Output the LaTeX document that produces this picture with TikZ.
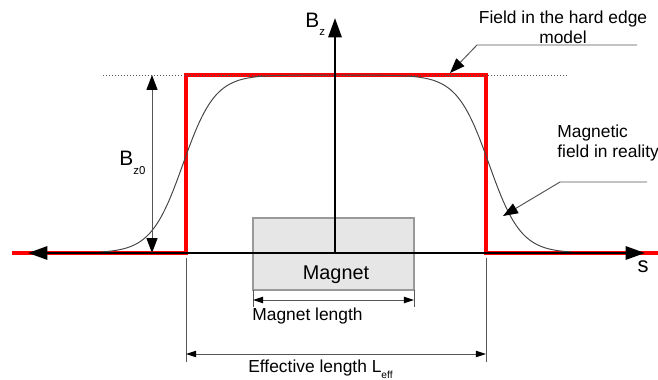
\documentclass[tikz,border=0pt]{standalone}
\usepackage{fontspec}
\setmainfont{Liberation Sans}
\usetikzlibrary{arrows.meta}
\definecolor{linegray}{HTML}{555555}
\definecolor{curvegray}{HTML}{444444}
\definecolor{boxfill}{HTML}{E6E6E6}
\definecolor{boxline}{HTML}{999999}
\tikzset{
  bigtip/.tip={Triangle[length=11pt,width=7.5pt,black]},
  midtip/.tip={Triangle[length=8.5pt,width=6.3pt,black]},
  smalltip/.tip={Triangle[length=5.7pt,width=3.6pt,black]},
}
\begin{document}
\begin{tikzpicture}[x=0.02cm,y=-0.02cm,
  lbl/.style={inner sep=0pt, font=\fontsize{9.9}{11}\selectfont},
  thinline/.style={draw=linegray, line width=0.55pt},
  axisline/.style={draw=black, line width=1.4pt},
  hardedge/.style={draw=red, line width=2.3pt, line join=miter},
]
\useasboundingbox (0,0) rectangle (658,379);

% named points
\coordinate (redL) at (12,253);
\coordinate (edgeLb) at (186,253);
\coordinate (edgeLt) at (186,75);
\coordinate (edgeRt) at (486,75);
\coordinate (edgeRb) at (486,253);
\coordinate (redR) at (658,253);
\coordinate (axL) at (28,253);
\coordinate (axR) at (645,253);
\coordinate (orig) at (335,253);
\coordinate (axT) at (335,18);
\coordinate (dotL) at (103,75);
\coordinate (dotR) at (568,75);

% hard edge field
\draw[hardedge] (redL) -- (edgeLb) -- (edgeLt) -- (edgeRt) -- (edgeRb) -- (redR);

% real field
\draw[curvegray, line width=0.55pt] plot[domain=100:572, samples=200]
  (\x, {253-178/(1+exp((abs(\x-336)-153)/16))});

% dotted level
\draw[linegray, line width=0.5pt, dash pattern=on 0.6pt off 1.1pt] (dotL) -- (dotR);

% magnet
\coordinate (mb1) at (253,218);
\coordinate (mb2) at (414,290);
\draw[draw=boxline, fill=boxfill, line width=0.6pt] (mb1) rectangle (mb2);
\node[lbl, font=\fontsize{11.3}{13}\selectfont, anchor=base] (magnet) at (336,279) {Magnet};

% axes
\draw[axisline, {bigtip}-{bigtip}] (axL) -- (axR);
\draw[axisline, -{bigtip}] (orig) -- (axT);
\node[lbl, anchor=base west, font=\fontsize{11.9}{13}\selectfont] (bz) at (305,27)
  {B\raisebox{-5pt}{\fontsize{6.5}{7}\selectfont z}};
\node[lbl, anchor=base, font=\fontsize{12.5}{13}\selectfont] (slbl) at (643,272) {s};

% Bz0 arrow
\coordinate (bz0t) at (152,75);
\coordinate (bz0b) at (152,253);
\draw[thinline, {midtip}-{midtip}] (bz0t) -- (bz0b);
\node[lbl, anchor=base west, font=\fontsize{11.9}{13}\selectfont] (bz0) at (119,165)
  {B\raisebox{-5.5pt}{\fontsize{6.5}{7}\selectfont z0}};

% hard edge label
\node[lbl, anchor=base] (hel1) at (563,23) {Field in the hard edge};
\node[lbl, anchor=base] (hel2) at (563,43) {model};
\coordinate (he1) at (637,45);
\coordinate (he2) at (477,45);
\coordinate (he3) at (450,73);
\draw[thinline, -{midtip}] (he1) -- (he2) -- (he3);

% reality label
\node[lbl, anchor=base west] (rl1) at (557,137) {Magnetic};
\node[lbl, anchor=base west] (rl2) at (557,157) {field in reality};
\coordinate (re1) at (647,182);
\coordinate (re2) at (560,182);
\coordinate (re3) at (503,216);
\draw[thinline, -{midtip}] (re1) -- (re2) -- (re3);

% magnet length
\coordinate (ml1) at (253,307);
\coordinate (ml2) at (414,307);
\draw[thinline] (mb1 |- mb2) -- (ml1);
\draw[thinline] (mb2) -- (ml2);
\draw[thinline, {smalltip}-{smalltip}] (253,300) -- (414,300);
\node[lbl, anchor=base west] (mltxt) at (252,320) {Magnet length};

% effective length
\coordinate (el1t) at (186,258);
\coordinate (el1b) at (186,362);
\coordinate (el2t) at (486,258);
\coordinate (el2b) at (486,362);
\draw[thinline] (el1t) -- (el1b);
\draw[thinline] (el2t) -- (el2b);
\draw[thinline, {smalltip}-{smalltip}] (186,354) -- (486,354);
\node[lbl, anchor=base west] (eltxt) at (248,372)
  {Effective length L\raisebox{-3.5pt}{\fontsize{5.8}{6}\selectfont eff}};
\end{tikzpicture}
\end{document}
